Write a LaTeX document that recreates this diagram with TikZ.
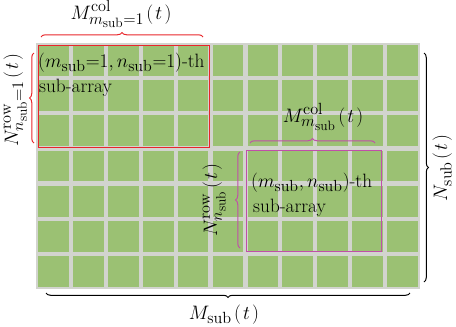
\documentclass[tikz,border=0pt]{standalone}
\usetikzlibrary{decorations.pathreplacing}
\DeclareMathSizes{17.28}{17.28}{14.4}{12}
\definecolor{cellgreen}{RGB}{155,193,115}
\definecolor{cellgrey}{RGB}{210,212,206}
\definecolor{boxred}{RGB}{232,38,43}
\definecolor{boxmag}{RGB}{192,79,168}
\newcommand{\tpar}{\mkern2mu(\mkern2mu t\mkern2mu)}
\tikzset{
  subbox/.style={line width=1.8bp},
  bracepath/.style={decorate,decoration={brace,amplitude=4.5bp,aspect=0.5},line width=1bp},
  lbl/.style={inner sep=0pt,anchor=base,scale=1.13,transform shape,font=\fontsize{17.28}{21}\selectfont},
  boxtext/.style={inner sep=0pt,anchor=base west,scale=1.12,transform shape,font=\fontsize{17.28}{21}\selectfont},
}
\begin{document}
\begin{tikzpicture}[x=1bp,y=-1bp]
\useasboundingbox (0,0) rectangle (456,326);
% grid background
\fill[cellgrey] (36,43) rectangle (420,289);
\foreach \i in {0,...,10}{
  \foreach \j in {0,...,6}{
    \fill[cellgreen] ({36+\i*34.909+2.1},{43+\j*35.143+2.1}) rectangle ({36+(\i+1)*34.909-2.1},{43+(\j+1)*35.143-2.1});
  }
}
% sub-array boxes
\node[draw=boxred,subbox,minimum width=171bp,minimum height=102bp,anchor=north west,inner sep=0pt] (red) at (37.5,44.5) {};
\node[draw=boxmag,subbox,minimum width=135bp,minimum height=101bp,anchor=north west,inner sep=0pt] (mag) at (245.5,149.5) {};
\node[boxtext] (redtext1) at (38,67) {$(m_{\mathrm{sub}}{=}1,n_{\mathrm{sub}}{=}1)$-th};
\node[boxtext] (redtext2) at (39,92) {sub-array};
\node[boxtext] (magtext1) at (251,187) {$(m_{\mathrm{sub}},n_{\mathrm{sub}})$-th};
\node[boxtext] (magtext2) at (253,212) {sub-array};
% brace end points
\coordinate (rt1) at (41,37);  \coordinate (rt2) at (203,37);
\coordinate (rl1) at (34,143); \coordinate (rl2) at (34,53);
\coordinate (mt1) at (250,143); \coordinate (mt2) at (375,143);
\coordinate (ml1) at (240,248); \coordinate (ml2) at (240,152);
\coordinate (bt1) at (424,53); \coordinate (bt2) at (424,282);
\coordinate (bb1) at (410,293); \coordinate (bb2) at (46,293);
% braces
\draw[bracepath,boxred] (rt1) -- (rt2);
\draw[bracepath,boxred] (rl1) -- (rl2);
\draw[bracepath,boxmag] (mt1) -- (mt2);
\draw[bracepath,boxmag] (ml1) -- (ml2);
\draw[bracepath,black] (bt1) -- (bt2);
\draw[bracepath,black] (bb1) -- (bb2);
% labels
\node[lbl] (lmc1) at (121,19) {$M^{\mathrm{col}}_{m_{\mathrm{sub}}=1}\tpar$};
\node[lbl,rotate=90] (lnr1) at (18,100) {$N^{\mathrm{row}}_{n_{\mathrm{sub}}=1}\tpar$};
\node[lbl] (lmc) at (323,122) {$M^{\mathrm{col}}_{m_{\mathrm{sub}}}\tpar$};
\node[lbl,rotate=90] (lnr) at (217,200) {$N^{\mathrm{row}}_{n_{\mathrm{sub}}}\tpar$};
\node[lbl,rotate=90] (lns) at (447,168) {$N_{\mathrm{sub}}\tpar$};
\node[lbl] (lms) at (224,319) {$M_{\mathrm{sub}}\tpar$};
\end{tikzpicture}
\end{document}
